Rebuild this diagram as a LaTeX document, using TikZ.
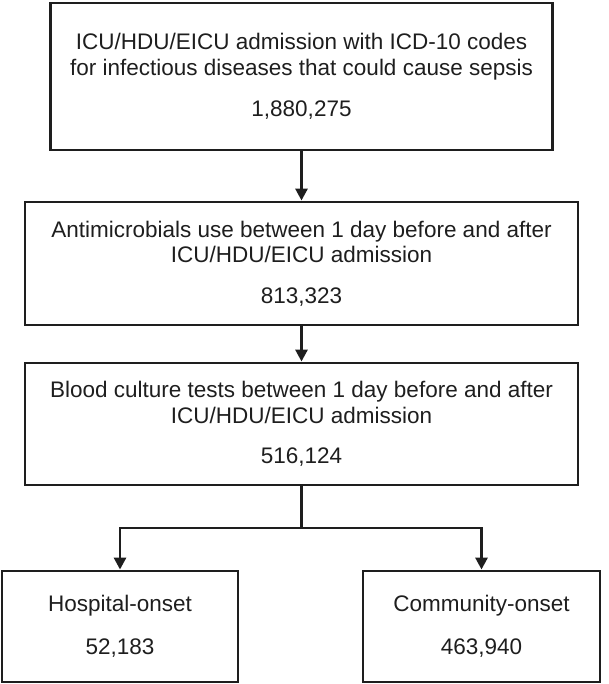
\documentclass[tikz,border=0pt]{standalone}
\usepackage{fontspec}
\setmainfont{Liberation Sans}
\usetikzlibrary{arrows.meta}
\definecolor{ink}{HTML}{1E1E1E}
\begin{document}
\begin{tikzpicture}[x=1pt,y=-1pt,
  box/.style={draw=ink, line width=2.9pt, rectangle, inner sep=0pt, align=center, text=ink, font=\fontsize{22.5}{25.5}\selectfont},
  link/.style={draw=ink, line width=2.9pt},
  conn/.style={draw=ink, line width=2.9pt, -{Triangle[length=12pt,width=12pt]}}
]
\useasboundingbox (0,0) rectangle (608,684);
\node[box, minimum width=502pt, minimum height=147pt] (b1) at (301.5,76.5)
  {ICU/HDU/EICU admission with ICD-10 codes\\for infectious diseases that could cause sepsis\\[16pt]1,880,275};
\node[box, minimum width=553pt, minimum height=123pt] (b2) at (301.5,263.5)
  {Antimicrobials use between 1 day before and after\\ICU/HDU/EICU admission\\[15pt]813,323};
\node[box, minimum width=553pt, minimum height=122pt] (b3) at (301.5,424)
  {Blood culture tests between 1 day before and after\\ICU/HDU/EICU admission\\[15pt]516,124};
\node[box, minimum width=236pt, minimum height=111pt] (hl) at (120,626.5)
  {Hospital-onset\\[18pt]52,183};
\node[box, minimum width=237pt, minimum height=111pt] (hr) at (481.5,626.5)
  {Community-onset\\[18pt]463,940};
\coordinate (split) at (301.5,528);
\draw[conn] (b1.south) -- (b1.south |- b2.north);
\draw[conn] (b1.south |- b2.south) -- (b1.south |- b3.north);
\draw[link] (b1.south |- b3.south) -- (split);
\draw[conn] (split) -| (hl.north);
\draw[conn] (split) -| (hr.north);
\end{tikzpicture}
\end{document}
